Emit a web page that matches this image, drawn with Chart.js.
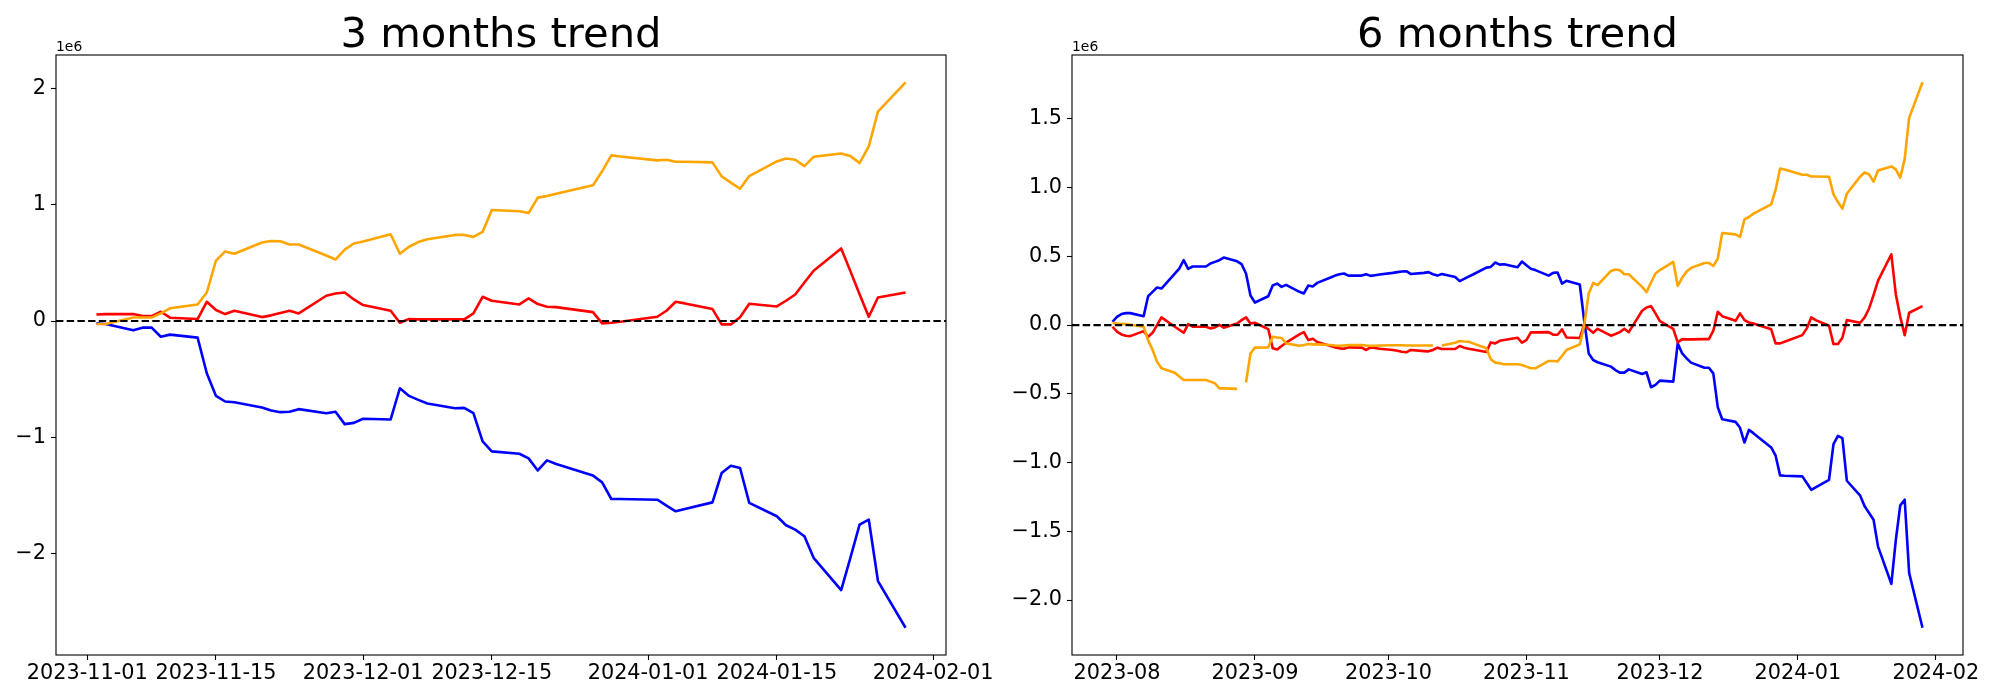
<!DOCTYPE html>
<html>
<head>
<meta charset="utf-8">
<title>trend</title>
<script src="https://cdn.jsdelivr.net/npm/chart.js@4.4.1/dist/chart.umd.min.js"></script>
<style>
  html, body { margin: 0; padding: 0; background: #fff; }
  #wrap { position: relative; width: 2000px; height: 700px; }
  canvas { position: absolute; top: 0; }
  #c3 { left: 0; }
  #c6 { left: 1000px; }
</style>
</head>
<body>
<div id="wrap">
  <canvas id="c3" width="1000" height="700"></canvas>
  <canvas id="c6" width="1000" height="700"></canvas>
</div>
<script>
// all values in units of 1e6

// 3 months trend
const dates3m = [
  "2023-11-02","2023-11-03",
  "2023-11-06","2023-11-07","2023-11-08","2023-11-09","2023-11-10",
  "2023-11-13","2023-11-14","2023-11-15","2023-11-16","2023-11-17",
  "2023-11-20","2023-11-21","2023-11-22","2023-11-23","2023-11-24",
  "2023-11-27","2023-11-28","2023-11-29","2023-11-30","2023-12-01",
  "2023-12-04","2023-12-05","2023-12-06","2023-12-07","2023-12-08",
  "2023-12-11","2023-12-12","2023-12-13","2023-12-14","2023-12-15",
  "2023-12-18","2023-12-19","2023-12-20","2023-12-21","2023-12-22",
  "2023-12-26","2023-12-27","2023-12-28","2023-12-29",
  "2024-01-02","2024-01-03","2024-01-04","2024-01-05",
  "2024-01-08","2024-01-09","2024-01-10","2024-01-11","2024-01-12",
  "2024-01-15","2024-01-16","2024-01-17","2024-01-18","2024-01-19",
  "2024-01-22","2024-01-23","2024-01-24","2024-01-25","2024-01-26",
  "2024-01-29"
];
const blue3m = [
  -0.02, -0.026,
  -0.08, -0.057, -0.057, -0.135, -0.117,
  -0.143, -0.45, -0.645, -0.693, -0.70,
  -0.745, -0.771, -0.785, -0.782, -0.759,
  -0.794, -0.782, -0.888, -0.877, -0.842,
  -0.848, -0.579, -0.645, -0.679, -0.71,
  -0.751, -0.748, -0.794, -1.037, -1.123,
  -1.143, -1.183, -1.287, -1.20, -1.232,
  -1.33, -1.39, -1.533, -1.533,
  -1.539, -1.59, -1.639, -1.619,
  -1.562, -1.309, -1.246, -1.266, -1.567,
  -1.682, -1.759, -1.797, -1.854, -2.04,
  -2.318, -2.04, -1.753, -1.71, -2.24,
  -2.642
];
const red3m = [
  0.057, 0.06,
  0.06, 0.043, 0.043, 0.08, 0.029,
  0.017, 0.166, 0.095, 0.06, 0.089,
  0.034, 0.049, 0.069, 0.089, 0.066,
  0.218, 0.238, 0.246, 0.186, 0.138,
  0.089, -0.014, 0.017, 0.014, 0.014,
  0.014, 0.014, 0.066, 0.209, 0.175,
  0.143, 0.195, 0.146, 0.123, 0.12,
  0.077, -0.02, -0.014, -0.006,
  0.037, 0.089, 0.166, 0.152,
  0.103, -0.029, -0.029, 0.032, 0.149,
  0.126, 0.175, 0.229, 0.332, 0.433,
  0.625, 0.43, 0.23, 0.037, 0.203,
  0.246
];
const orange3m = [
  -0.025, -0.025,
  0.03, 0.03, 0.03, 0.066, 0.11,
  0.143, 0.246, 0.52, 0.60, 0.58,
  0.676, 0.69, 0.688, 0.66, 0.66,
  0.565, 0.53, 0.616, 0.668, 0.685,
  0.748, 0.58, 0.64, 0.68, 0.705,
  0.742, 0.742, 0.725, 0.768, 0.957,
  0.946, 0.93, 1.063, 1.077, 1.097,
  1.169, 1.29, 1.427, 1.418,
  1.384, 1.39, 1.372, 1.372,
  1.367, 1.246, 1.192, 1.14, 1.249,
  1.375, 1.40, 1.39, 1.335, 1.415,
  1.444, 1.421, 1.361, 1.504, 1.805,
  2.057
];
const xTicks3m = ["2023-11-01","2023-11-15","2023-12-01","2023-12-15","2024-01-01","2024-01-15","2024-02-01"];
const yTicks3m = [-2, -1, 0, 1, 2];
const yLabels3m = ["\u22122", "\u22121", "0", "1", "2"];

// 6 months trend
const dates6m = [
  "2023-07-31","2023-08-01","2023-08-02","2023-08-03","2023-08-04",
  "2023-08-07","2023-08-08","2023-08-09","2023-08-10","2023-08-11",
  "2023-08-14","2023-08-15","2023-08-16","2023-08-17","2023-08-18",
  "2023-08-21","2023-08-22","2023-08-23","2023-08-24","2023-08-25",
  "2023-08-28","2023-08-29","2023-08-30","2023-08-31","2023-09-01",
  "2023-09-04","2023-09-05","2023-09-06","2023-09-07","2023-09-08",
  "2023-09-11","2023-09-12","2023-09-13","2023-09-14","2023-09-15",
  "2023-09-18","2023-09-19","2023-09-20","2023-09-21","2023-09-22",
  "2023-09-25","2023-09-26","2023-09-27","2023-09-28","2023-09-29",
  "2023-10-02","2023-10-03","2023-10-04","2023-10-05","2023-10-06",
  "2023-10-09","2023-10-10","2023-10-11","2023-10-12","2023-10-13",
  "2023-10-16","2023-10-17","2023-10-18","2023-10-19","2023-10-20",
  "2023-10-23","2023-10-24","2023-10-25","2023-10-26","2023-10-27",
  "2023-10-30","2023-10-31","2023-11-01","2023-11-02","2023-11-03",
  "2023-11-06","2023-11-07","2023-11-08","2023-11-09","2023-11-10",
  "2023-11-13","2023-11-14","2023-11-15","2023-11-16","2023-11-17",
  "2023-11-20","2023-11-21","2023-11-22","2023-11-23","2023-11-24",
  "2023-11-27","2023-11-28","2023-11-29","2023-11-30","2023-12-01",
  "2023-12-04","2023-12-05","2023-12-06","2023-12-07","2023-12-08",
  "2023-12-11","2023-12-12","2023-12-13","2023-12-14","2023-12-15",
  "2023-12-18","2023-12-19","2023-12-20","2023-12-21","2023-12-22",
  "2023-12-26","2023-12-27","2023-12-28","2023-12-29",
  "2024-01-02","2024-01-03","2024-01-04","2024-01-05",
  "2024-01-08","2024-01-09","2024-01-10","2024-01-11","2024-01-12",
  "2024-01-15","2024-01-16","2024-01-17","2024-01-18","2024-01-19",
  "2024-01-22","2024-01-23","2024-01-24","2024-01-25","2024-01-26",
  "2024-01-29"
];
const blue6m = [
  0.024, 0.06, 0.08, 0.087, 0.087,
  0.065, 0.21, 0.242, 0.273, 0.266,
  0.375, 0.41, 0.472, 0.409, 0.426,
  0.426, 0.448, 0.46, 0.472, 0.491,
  0.464, 0.443, 0.375, 0.215, 0.164,
  0.21, 0.288, 0.302, 0.278, 0.293,
  0.242, 0.23, 0.288, 0.281, 0.307,
  0.346, 0.36, 0.37, 0.375, 0.36,
  0.36, 0.37, 0.358, 0.363, 0.368,
  0.38, 0.385, 0.39, 0.392, 0.372,
  0.38, 0.385, 0.37, 0.36, 0.372,
  0.35, 0.32, 0.336, 0.353, 0.368,
  0.418, 0.423, 0.455, 0.44, 0.443,
  0.421, 0.462, 0.435, 0.409, 0.40,
  0.36, 0.38, 0.382, 0.302, 0.322,
  0.295, 0.03, -0.206, -0.254, -0.27,
  -0.302, -0.327, -0.346, -0.346, -0.322,
  -0.356, -0.343, -0.452, -0.435, -0.404,
  -0.411, -0.133, -0.206, -0.242, -0.273,
  -0.31, -0.31, -0.351, -0.597, -0.685,
  -0.704, -0.747, -0.854, -0.762, -0.786,
  -0.89, -0.95, -1.093, -1.096,
  -1.1, -1.149, -1.198, -1.18,
  -1.125, -0.866, -0.805, -0.822, -1.132,
  -1.241, -1.318, -1.367, -1.415, -1.609,
  -1.882, -1.565, -1.311, -1.27, -1.802,
  -2.201
];
const red6m = [
  -0.012, -0.048, -0.068, -0.077, -0.08,
  -0.044, -0.085, -0.056, 0.0, 0.056,
  -0.012, -0.034, -0.056, 0.007, -0.012,
  -0.012, -0.024, -0.017, 0.002, -0.019,
  0.012, 0.036, 0.056, 0.012, 0.017,
  -0.029, -0.169, -0.177, -0.152, -0.128,
  -0.068, -0.051, -0.109, -0.099, -0.123,
  -0.152, -0.162, -0.169, -0.172, -0.162,
  -0.164, -0.181, -0.162, -0.167, -0.172,
  -0.181, -0.186, -0.194, -0.198, -0.181,
  -0.189, -0.191, -0.181, -0.164, -0.174,
  -0.174, -0.152, -0.164, -0.172, -0.177,
  -0.196, -0.126, -0.133, -0.114, -0.109,
  -0.092, -0.128, -0.109, -0.053, -0.053,
  -0.051, -0.07, -0.07, -0.031, -0.09,
  -0.094, 0.007, -0.029, -0.056, -0.027,
  -0.077, -0.065, -0.051, -0.027, -0.051,
  0.104, 0.128, 0.138, 0.085, 0.029,
  -0.027, -0.126, -0.102, -0.104, -0.104,
  -0.102, -0.102, -0.041, 0.097, 0.065,
  0.031, 0.085, 0.036, 0.019, 0.012,
  -0.031, -0.133, -0.133, -0.121,
  -0.073, -0.024, 0.056, 0.036,
  -0.005, -0.138, -0.138, -0.092, 0.036,
  0.017, 0.056, 0.121, 0.218, 0.322,
  0.515, 0.225, 0.06, -0.073, 0.09,
  0.138
];
const orange6m = [
  0.017, 0.012, 0.01, 0.007, 0.002,
  -0.012, -0.11, -0.18, -0.266, -0.314,
  -0.346, -0.373, -0.399, -0.399, -0.399,
  -0.399, -0.411, -0.423, -0.46, -0.46,
  -0.464, null, -0.418, -0.206, -0.164,
  -0.162, -0.085, -0.09, -0.094, -0.133,
  -0.15, -0.145, -0.138, -0.14, -0.14,
  -0.145, -0.148, -0.15, -0.148, -0.146,
  -0.145, -0.148, -0.15, -0.15, -0.148,
  -0.147, -0.147, -0.147, -0.148, -0.148,
  -0.148, -0.148, -0.148, null, -0.148,
  -0.128, -0.116, -0.119, -0.121, -0.133,
  -0.169, -0.249, -0.273, -0.278, -0.285,
  -0.285, -0.29, -0.302, -0.314, -0.314,
  -0.261, -0.261, -0.264, -0.225, -0.181,
  -0.14, 0.0, 0.23, 0.307, 0.29,
  0.394, 0.404, 0.399, 0.37, 0.37,
  0.278, 0.24, 0.31, 0.375, 0.40,
  0.46, 0.285, 0.346, 0.389, 0.416,
  0.452, 0.452, 0.43, 0.484, 0.67,
  0.66, 0.641, 0.769, 0.786, 0.81,
  0.878, 0.985, 1.139, 1.132,
  1.093, 1.093, 1.081, 1.081,
  1.079, 0.951, 0.895, 0.847, 0.955,
  1.081, 1.11, 1.096, 1.043, 1.125,
  1.154, 1.132, 1.072, 1.209, 1.507,
  1.766
];
const xTicks6m = ["2023-08","2023-09","2023-10","2023-11","2023-12","2024-01","2024-02"];
const yTicks6m = [-2, -1.5, -1, -0.5, 0, 0.5, 1, 1.5];
const yLabels6m = ["\u22122.0", "\u22121.5", "\u22121.0", "\u22120.5", "0.0", "0.5", "1.0", "1.5"];

Chart.defaults.font.family = '"DejaVu Sans"';
Chart.defaults.color = "#000";

function dayNum(s) {
  const p = s.split("-").map(Number);
  return Date.UTC(p[0], p[1] - 1, p.length > 2 ? p[2] : 1) / 864e5;
}

// 5% margins, like matplotlib autoscale
function bounds(arr) {
  const lo = Math.min(...arr), hi = Math.max(...arr);
  const m = (hi - lo) * 0.05;
  return [lo - m, hi + m];
}

// frame, dashed zero line, title and the "1e6" offset text
const trendDecor = {
  id: "trend",
  afterDatasetsDraw(chart) {
    const ctx = chart.ctx, a = chart.chartArea;
    const y0 = chart.scales.y.getPixelForValue(0);
    ctx.save();
    ctx.strokeStyle = "#000";
    ctx.lineWidth = 2.1;
    ctx.setLineDash([7.4, 3.3]);
    ctx.beginPath();
    ctx.moveTo(a.left, y0);
    ctx.lineTo(a.right, y0);
    ctx.stroke();
    ctx.restore();
  },
  afterDraw(chart, args, opts) {
    const ctx = chart.ctx, a = chart.chartArea;
    ctx.save();
    ctx.strokeStyle = "#000";
    ctx.lineWidth = 1.1;
    ctx.strokeRect(a.left, a.top, a.right - a.left, a.bottom - a.top);
    ctx.fillStyle = "#000";
    ctx.textBaseline = "alphabetic";
    ctx.textAlign = "center";
    ctx.font = '41.7px "DejaVu Sans"';
    ctx.fillText(opts.title, (a.left + a.right) / 2, a.top - 8);
    ctx.textAlign = "left";
    ctx.font = '13.9px "DejaVu Sans"';
    ctx.fillText("1e6", a.left, a.top - 4);
    ctx.restore();
  }
};

function trendChart(id, title, dates, blue, red, orange, xTicks, yTicks, yLabels, yWidth, padRight) {
  const xs = dates.map(dayNum);
  const [xMin, xMax] = bounds([xs[0], xs[xs.length - 1]]);
  const [yMin, yMax] = bounds(blue.concat(red, orange).filter(v => v !== null));

  const line = (vals, color) => ({
    data: vals.map((v, i) => ({ x: xs[i], y: v })),
    borderColor: color,
    borderWidth: 2.6,
    borderJoinStyle: "round",
    pointRadius: 0,
    tension: 0,
    spanGaps: false
  });

  return new Chart(document.getElementById(id), {
    type: "line",
    data: { datasets: [line(orange, "orange"), line(red, "red"), line(blue, "blue")] },
    options: {
      responsive: false,
      animation: false,
      devicePixelRatio: 1,
      layout: { padding: { left: 0, top: 55, right: padRight, bottom: 0 } },
      plugins: {
        legend: { display: false },
        tooltip: { enabled: false },
        trend: { title: title }
      },
      scales: {
        x: {
          type: "linear",
          min: xMin,
          max: xMax,
          afterBuildTicks: ax => { ax.ticks = xTicks.map(s => ({ value: dayNum(s) })); },
          afterFit: ax => { ax.height = 45; },
          ticks: {
            autoSkip: false, maxRotation: 0, minRotation: 0, padding: 1,
            font: { size: 20.8 },
            callback: (v, i) => xTicks[i]
          },
          grid: { display: true, drawOnChartArea: false, tickLength: 5, tickWidth: 1.1, tickColor: "#000" },
          border: { display: false }
        },
        y: {
          type: "linear",
          min: yMin,
          max: yMax,
          afterBuildTicks: ax => { ax.ticks = yTicks.map(v => ({ value: v })); },
          afterFit: ax => { ax.width = yWidth; },
          ticks: {
            padding: 5,
            font: { size: 20.8 },
            callback: (v, i) => yLabels[i]
          },
          grid: { display: true, drawOnChartArea: false, tickLength: 5, tickWidth: 1.1, tickColor: "#000" },
          border: { display: false }
        }
      }
    },
    plugins: [trendDecor]
  });
}

trendChart("c3", "3 months trend", dates3m, blue3m, red3m, orange3m, xTicks3m, yTicks3m, yLabels3m, 56, 54);
trendChart("c6", "6 months trend", dates6m, blue6m, red6m, orange6m, xTicks6m, yTicks6m, yLabels6m, 72, 37);
</script>
</body>
</html>
